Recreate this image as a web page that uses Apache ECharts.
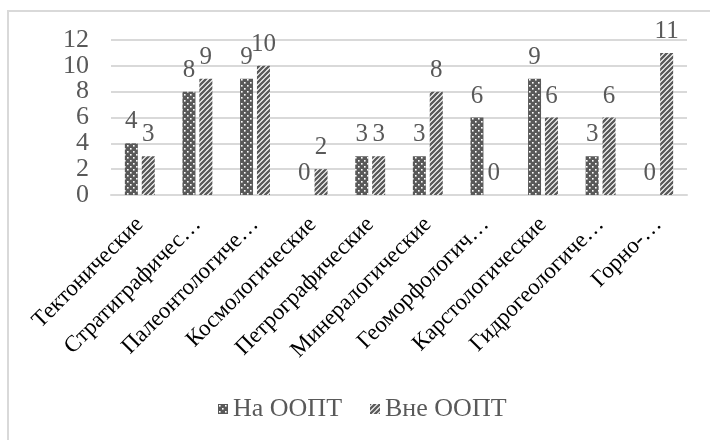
<!DOCTYPE html>
<html>
<head>
<meta charset="utf-8">
<script src="https://cdn.jsdelivr.net/npm/echarts@6/dist/echarts.min.js"></script>
<style>
  html, body { margin: 0; padding: 0; background: #fff; }
  #frame { position: absolute; left: 7px; top: 10px; width: 720px; height: 450px; border: 2px solid #d9d9d9; box-sizing: border-box; }
  #chart { position: absolute; left: 0; top: 0; width: 710px; height: 440px; }
</style>
</head>
<body>
<div id="frame"></div>
<div id="chart"></div>
<script>
// Geosite categories and counts inside / outside protected areas
const categories = [
  'Тектонические', 'Стратиграфичес…', 'Палеонтологиче…', 'Космологические',
  'Петрографические', 'Минералогические', 'Геоморфологич…', 'Карстологические',
  'Гидрогеологиче…', 'Горно-…'
];
const seriesNames = ['На ООПТ', 'Вне ООПТ'];
const insideValues = [4, 8, 9, 0, 3, 3, 6, 9, 3, 0];
const outsideValues = [3, 9, 10, 2, 3, 8, 0, 6, 6, 11];
const yTicks = { min: 0, max: 12, step: 2 };

const FONT = '"Liberation Serif", "Times New Roman", serif';
const GRAY = '#595959';

// Dark fill with staggered white dots
function dotPattern() {
  const c = document.createElement('canvas');
  c.width = 6; c.height = 6;
  const g = c.getContext('2d');
  g.fillStyle = GRAY; g.fillRect(0, 0, 6, 6);
  g.fillStyle = '#ffffff';
  g.fillRect(1, 1, 1.6, 1.6);
  g.fillRect(4, 4, 1.6, 1.6);
  return c;
}
// White fill with dark diagonal stripes
function stripePattern() {
  const s = 5;
  const c = document.createElement('canvas');
  c.width = s; c.height = s;
  const g = c.getContext('2d');
  g.fillStyle = '#ffffff'; g.fillRect(0, 0, s, s);
  g.strokeStyle = GRAY; g.lineWidth = 2.3;
  g.beginPath();
  g.moveTo(-1, s + 1); g.lineTo(s + 1, -1);
  g.moveTo(-2, 2); g.lineTo(2, -2);
  g.moveTo(s - 2, s + 2); g.lineTo(s + 2, s - 2);
  g.stroke();
  return c;
}

const dots = { image: dotPattern(), repeat: 'repeat' };
const stripes = { image: stripePattern(), repeat: 'repeat' };

const labelStyle = {
  show: true, position: 'top', distance: 9,
  color: GRAY, fontFamily: FONT, fontSize: 25
};

const chart = echarts.init(document.getElementById('chart'), null, { renderer: 'canvas' });
chart.setOption({
  animation: false,
  backgroundColor: 'transparent',
  grid: { left: 111, right: 23, top: 40, bottom: 245 },
  legend: {
    data: seriesNames,
    top: 391,
    left: 213,
    itemWidth: 10, itemHeight: 10, itemGap: 28,
    textStyle: { color: GRAY, fontFamily: FONT, fontSize: 26 },
    icon: 'rect'
  },
  xAxis: {
    type: 'category',
    data: categories,
    axisLine: { lineStyle: { color: '#d9d9d9', width: 2 } },
    axisTick: { show: false },
    axisLabel: {
      interval: 0, rotate: 45, margin: 26,
      color: '#000', fontFamily: FONT, fontSize: 23
    }
  },
  yAxis: {
    type: 'value',
    min: yTicks.min, max: yTicks.max, interval: yTicks.step,
    axisLine: { show: false },
    axisTick: { show: false },
    splitLine: { lineStyle: { color: '#d9d9d9', width: 2 } },
    axisLabel: { margin: 22, color: GRAY, fontFamily: FONT, fontSize: 26 }
  },
  series: [
    {
      name: seriesNames[0], type: 'bar', data: insideValues,
      barWidth: 13, barGap: '30%',
      itemStyle: { color: dots },
      label: labelStyle
    },
    {
      name: seriesNames[1], type: 'bar', data: outsideValues,
      barWidth: 13,
      itemStyle: { color: stripes },
      label: labelStyle
    }
  ]
});
</script>
</body>
</html>
